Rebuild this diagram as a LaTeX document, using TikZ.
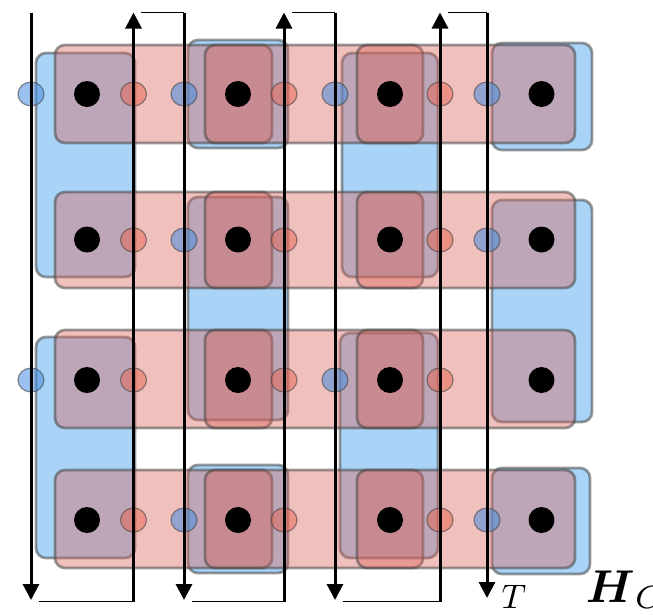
\documentclass[tikz,border=0pt]{standalone}
\usepackage{amsmath}
\usetikzlibrary{arrows.meta,shapes.geometric}
\definecolor{bfill}{RGB}{85,170,240}
\definecolor{rfill}{RGB}{217,97,87}
\definecolor{edgegray}{RGB}{70,70,70}
\definecolor{bovalc}{RGB}{70,140,225}
\definecolor{rovalc}{RGB}{230,100,80}
\tikzset{
  bluebox/.style={fill=bfill, fill opacity=0.5, draw=edgegray, draw opacity=0.55, line width=2.8pt, rounded corners=10pt},
  redbox/.style={fill=rfill, fill opacity=0.4, draw=edgegray, draw opacity=0.55, line width=2.8pt, rounded corners=10pt},
  blueoval/.style={ellipse, minimum width=26pt, minimum height=24pt, inner sep=0pt, fill=bovalc, fill opacity=0.55, draw=edgegray, draw opacity=0.6, line width=1.2pt},
  redoval/.style={ellipse, minimum width=26pt, minimum height=24pt, inner sep=0pt, fill=rovalc, fill opacity=0.5, draw=edgegray, draw opacity=0.6, line width=1.2pt},
  qubit/.style={circle, fill=black, minimum size=26pt, inner sep=0pt},
  vline/.style={line width=3pt, -{Triangle[width=16pt,length=16pt]}},
  hline/.style={line width=1.4pt},
}
\begin{document}
\begin{tikzpicture}[x=1pt,y=-1pt]
\useasboundingbox (0,0) rectangle (653,614);
% blue plaquettes
\draw[bluebox] (36,53) rectangle (135,277);
\draw[bluebox] (36,337) rectangle (135,558);
\draw[bluebox] (188,40) rectangle (288,148);
\draw[bluebox] (188,197) rectangle (288,420);
\draw[bluebox] (188,465) rectangle (288,573);
\draw[bluebox] (342,53) rectangle (438,277);
\draw[bluebox] (340,333) rectangle (438,558);
\draw[bluebox] (492,43) rectangle (592,150);
\draw[bluebox] (492,200) rectangle (592,422);
\draw[bluebox] (492,468) rectangle (590,574);
% red bars
\foreach \ya/\yb in {45/143,192/288,330/428,470/568}{
  \draw[redbox] (55,\ya) rectangle (272,\yb);
  \draw[redbox] (205,\ya) rectangle (423,\yb);
  \draw[redbox] (357,\ya) rectangle (575,\yb);
}
% small ovals
\node[blueoval] (o11) at (31,94) {};
\node[redoval]  (o12) at (133.5,94) {};
\node[blueoval] (o13) at (184,94) {};
\node[redoval]  (o14) at (284,94) {};
\node[blueoval] (o15) at (335,94) {};
\node[redoval]  (o16) at (440,94) {};
\node[blueoval] (o17) at (487,94) {};
\node[redoval]  (o22) at (133.5,240) {};
\node[blueoval] (o23) at (184,240) {};
\node[redoval]  (o24) at (284,240) {};
\node[redoval]  (o26) at (440,240) {};
\node[blueoval] (o27) at (487,240) {};
\node[blueoval] (o31) at (31,380) {};
\node[redoval]  (o32) at (133.5,380) {};
\node[redoval]  (o34) at (284,380) {};
\node[blueoval] (o35) at (335,380) {};
\node[redoval]  (o36) at (440,380) {};
\node[redoval]  (o42) at (133.5,520) {};
\node[blueoval] (o43) at (184,520) {};
\node[redoval]  (o44) at (284,520) {};
\node[redoval]  (o46) at (440,520) {};
\node[blueoval] (o47) at (487,520) {};
% qubits
\foreach \y [count=\r] in {94,239.5,380,520}{
  \foreach \x [count=\c] in {87,238,390,541.5}{
    \node[qubit] (q\r\c) at (\x,\y) {};
  }
}
% line end points
\coordinate (T1) at (31,12.5);    \coordinate (B1) at (31,600);
\coordinate (T2) at (133.5,12.5); \coordinate (B2) at (133.5,601.5);
\coordinate (T3) at (184,12.5);   \coordinate (B3) at (184,600);
\coordinate (T4) at (284,12.5);   \coordinate (B4) at (284,601.5);
\coordinate (T5) at (335,12.5);   \coordinate (B5) at (335,600);
\coordinate (T6) at (440,12.5);   \coordinate (B6) at (440,601.5);
\coordinate (T7) at (487,12.5);   \coordinate (B7) at (487,598);
\coordinate (B1r) at (39,601.5);
\coordinate (B3r) at (192,601.5);
\coordinate (B5r) at (343,601.5);
\coordinate (T2r) at (141,12.5);
\coordinate (T4r) at (292,12.5);
\coordinate (T6r) at (448,12.5);
% vertical time lines
\draw[vline] (T1) -- (B1);
\draw[vline] (B2) -- (T2);
\draw[vline] (T3) -- (B3);
\draw[vline] (B4) -- (T4);
\draw[vline] (T5) -- (B5);
\draw[vline] (B6) -- (T6);
\draw[vline] (T7) -- (B7);
% connectors
\draw[hline] (B1r) -- (B2);
\draw[hline] (B3r) -- (B4);
\draw[hline] (B5r) -- (B6);
\draw[hline] (T2r) -- (T3);
\draw[hline] (T4r) -- (T5);
\draw[hline] (T6r) -- (T7);
% labels
\node[anchor=base west, inner sep=0pt, scale=3.4] (lt) at (501,608) {$T$};
\node[anchor=base west, inner sep=0pt, scale=4.6] (lh) at (585,602) {$\boldsymbol{H}_C$};
\end{tikzpicture}
\end{document}
